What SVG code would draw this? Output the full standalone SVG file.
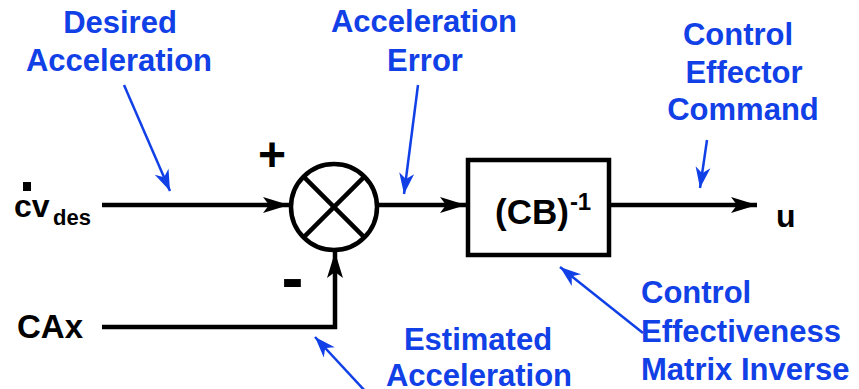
<svg xmlns="http://www.w3.org/2000/svg" width="859" height="389" viewBox="0 0 859 389">
<style>
.lbl{font-family:"Liberation Sans",Arial,sans-serif;font-weight:bold;fill:#000}
.note{font-family:"Liberation Sans",Arial,sans-serif;font-weight:bold;font-size:31px;fill:#1040e6}
.wire{stroke:#000;stroke-width:4.5;fill:none}
.ptr{stroke:#1040e6;stroke-width:2.5;fill:none}
</style>
<defs>
<marker id="ah" markerUnits="userSpaceOnUse" markerWidth="30" markerHeight="20" viewBox="-28 -10 30 20" refX="0" refY="0" orient="auto">
<path d="M0,0 L-26,-8 L-20,0 L-26,8 Z" fill="#000"/>
</marker>
<marker id="bh" markerUnits="userSpaceOnUse" markerWidth="26" markerHeight="20" viewBox="-24 -10 26 20" refX="0" refY="0" orient="auto">
<path d="M0,0 L-21,-7.5 L-15,0 L-21,7.5 Z" fill="#1040e6"/>
</marker>
</defs>

<g id="input-cvdes">
<rect x="23" y="182" width="8" height="9" fill="#000"/>
<text class="lbl" x="14" y="217" font-size="32">cv<tspan x="53" y="225" font-size="22">des</tspan></text>
</g>

<g id="input-cax">
<text class="lbl" x="17" y="338" font-size="33">CAx</text>
</g>

<g id="sum">
<circle cx="334" cy="207" r="43" fill="#fff" stroke="#000" stroke-width="4.5"/>
<line x1="303.6" y1="176.6" x2="364.4" y2="237.4" stroke="#000" stroke-width="4.5"/>
<line x1="364.4" y1="176.6" x2="303.6" y2="237.4" stroke="#000" stroke-width="4.5"/>
<text class="lbl" x="272" y="171" font-size="48" text-anchor="middle">+</text>
<text class="lbl" x="292.5" y="300" font-size="66" text-anchor="middle">-</text>
</g>

<g id="block">
<rect x="468" y="160" width="141" height="95" fill="#fff" stroke="#000" stroke-width="4.5"/>
<text class="lbl" x="495" y="224" font-size="35">(CB)<tspan dx="1" dy="-14" font-size="24">-1</tspan></text>
</g>

<g id="output-u">
<text class="lbl" x="776" y="227" font-size="32">u</text>
</g>

<g id="connectors">
<line class="wire" x1="102" y1="205" x2="289" y2="205" marker-end="url(#ah)"/>
<line class="wire" x1="379" y1="205" x2="466" y2="205" marker-end="url(#ah)"/>
<line class="wire" x1="611" y1="205" x2="757" y2="205" marker-end="url(#ah)"/>
<polyline class="wire" points="102,327 335,327 335,252" marker-end="url(#ah)"/>
<line class="ptr" x1="124" y1="85" x2="170" y2="191" marker-end="url(#bh)"/>
<line class="ptr" x1="418" y1="85" x2="404" y2="194" marker-end="url(#bh)"/>
<line class="ptr" x1="707" y1="140" x2="700" y2="188" marker-end="url(#bh)"/>
<line class="ptr" x1="366" y1="392" x2="315" y2="337" marker-end="url(#bh)"/>
<line class="ptr" x1="643" y1="333" x2="560" y2="267" marker-end="url(#bh)"/>
</g>

<g id="note-desired">
<text class="note" x="120" y="33" text-anchor="middle">Desired</text>
<text class="note" x="119" y="71" text-anchor="middle">Acceleration</text>
</g>
<g id="note-error">
<text class="note" x="424" y="32" text-anchor="middle">Acceleration</text>
<text class="note" x="425" y="71" text-anchor="middle">Error</text>
</g>
<g id="note-command">
<text class="note" x="738" y="45" text-anchor="middle">Control</text>
<text class="note" x="744" y="83" text-anchor="middle">Effector</text>
<text class="note" x="743" y="120" text-anchor="middle">Command</text>
</g>
<g id="note-estimated">
<text class="note" x="478" y="350" text-anchor="middle">Estimated</text>
<text class="note" x="479" y="386" text-anchor="middle">Acceleration</text>
</g>
<g id="note-effectiveness">
<text class="note" x="641" y="303">Control</text>
<text class="note" x="641" y="342">Effectiveness</text>
<text class="note" x="641" y="380">Matrix Inverse</text>
</g>
</svg>
